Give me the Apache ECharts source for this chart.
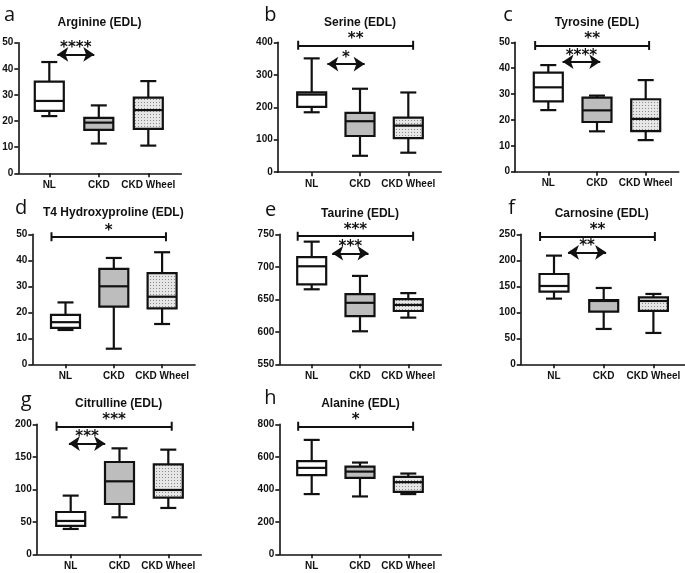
<!DOCTYPE html>
<html><head><meta charset="utf-8">
<script src="https://cdn.jsdelivr.net/npm/echarts@6/dist/echarts.min.js"></script>
<style>html,body{margin:0;padding:0;background:#fff}#c{width:685px;height:573px}</style>
</head><body><div id="c"></div>
<script>
// ---------- data ----------
const categories = ['NL', 'CKD', 'CKD Wheel'];
const panelLetters = ['a', 'b', 'c', 'd', 'e', 'f', 'g', 'h'];
const panelTitles = ['Arginine (EDL)', 'Serine (EDL)', 'Tyrosine (EDL)', 'T4 Hydroxyproline (EDL)',
  'Taurine (EDL)', 'Carnosine (EDL)', 'Citrulline (EDL)', 'Alanine (EDL)'];

// box values per group: [min, Q1, median, Q3, max] for NL, CKD, CKD Wheel
const arginine = [[21.9, 23.9, 27.7, 35.1, 42.6], [11.4, 16.6, 19.4, 21.2, 26.0], [10.6, 17.0, 24.2, 29.0, 35.3]];
const serine = [[184.5, 201, 239, 246, 350.5], [50.5, 111.5, 157, 182.5, 257], [60, 105, 143.5, 168, 245.5]];
const tyrosine = [[23.8, 27.2, 32.6, 38.3, 41.2], [15.6, 19.2, 23.7, 28.6, 29.4], [12.2, 15.7, 20.4, 28.0, 35.4]];
const hydroxyproline = [[13.2, 14.0, 16.2, 19.0, 23.8], [6.0, 22.2, 30.0, 36.7, 40.9], [15.5, 21.5, 26.0, 35.1, 43.1]];
const taurine = [[665.4, 673, 700.8, 715, 738.7], [600.8, 624, 644.6, 658, 686], [621.8, 632, 641.3, 650.3, 659.5]];
const carnosine = [[126.3, 139.7, 150.6, 173.7, 209], [68, 101.3, 121.8, 123.7, 146.8], [60.3, 102.6, 121.8, 128.8, 135.3]];
const citrulline = [[39, 43.6, 51.3, 65.1, 90.3], [56.9, 77.4, 112.3, 142, 163], [71.3, 87.2, 99, 138.5, 161]];
const alanine = [[370.6, 487, 532, 573, 704], [356, 470.6, 509, 540, 564.6], [370.6, 384.5, 444, 476.5, 497]];
const panelData = [arginine, serine, tyrosine, hydroxyproline, taurine, carnosine, citrulline, alanine];

// y axis ticks: [min, max, interval]
const yTicks = [[0, 50, 10], [0, 400, 100], [0, 50, 10], [0, 50, 10], [550, 750, 50], [0, 250, 50], [0, 200, 50], [0, 800, 200]];

// significance brackets: [from (category units), to, y value, label, kind]
const brackets = [
  [[1.05, 2.02, 45.5, '****', 'arrow']],
  [[0.72, 3.10, 390.7, '**', 'bar'], [1.21, 2.21, 333, '*', 'arrow']],
  [[0.73, 3.07, 48.8, '**', 'bar'], [1.18, 2.18, 42.5, '****', 'arrow']],
  [[0.71, 3.08, 49.1, '*', 'bar']],
  [[0.71, 3.10, 747, '***', 'bar'], [1.31, 2.29, 720.8, '***', 'arrow']],
  [[0.72, 3.03, 246, '**', 'bar'], [1.17, 2.16, 215.4, '**', 'arrow']],
  [[0.71, 3.07, 197, '***', 'bar'], [0.85, 1.82, 170.3, '***', 'arrow']],
  [[0.72, 3.10, 787.7, '*', 'bar']]
];

// ---------- layout (pixels) ----------
// [y-axis x, first category x, category spacing, top (max value), bottom (min value)]
const panelLayout = [
  [18.3, 49.3, 49.5, 42.7, 173.3],
  [277.8, 311.7, 48.3, 42.3, 172.2],
  [515, 548.3, 48.7, 42.3, 171.7],
  [32.3, 65.5, 48.3, 234.3, 364.3],
  [279.3, 311.7, 48.3, 234.3, 364.3],
  [520.7, 554, 49.7, 234.3, 364.3],
  [36.7, 70.7, 48.8, 424.3, 554.3],
  [279.3, 311.7, 48.3, 424.3, 554.3]
];
const titlePos = [[99.5, 22.8], [360, 22.8], [597, 22.8], [113.3, 213], [360, 214], [601.7, 214], [118.7, 404], [360.5, 404]];
const letterPos = [[4, 20], [264.3, 20], [503.3, 20.7], [15, 213.3], [265, 215], [508.3, 213.3], [20.7, 405.7], [264.3, 403.3]];

// ---------- styles ----------
const INK = '#111';
function makePattern() {
  const c = document.createElement('canvas');
  c.width = 3; c.height = 3;
  const g = c.getContext('2d');
  g.fillStyle = '#e6e6e6'; g.fillRect(0, 0, 3, 3);
  g.fillStyle = '#8a8a8a'; g.fillRect(0, 0, 1, 1);
  return c;
}
const boxFills = ['#ffffff', '#bdbdbd', { image: makePattern(), repeat: 'repeat' }];
const capPath = 'path://M0,0h0.01v0.01h-0.01Z M0,3.9h10v2.2h-10Z M0,9.99h0.01v0.01h-0.01Z';

function renderBox(params, api) {
  const x = api.value(0);
  const lo = api.coord([x, api.value(1)]);
  const q1 = api.coord([x, api.value(2)]);
  const md = api.coord([x, api.value(3)]);
  const q3 = api.coord([x, api.value(4)]);
  const hi = api.coord([x, api.value(5)]);
  const cx = lo[0];
  const bw = 29, cw = 16;
  const ls = { stroke: INK, lineWidth: 2.2 };
  return {
    type: 'group',
    children: [
      { type: 'line', shape: { x1: cx, y1: hi[1], x2: cx, y2: q3[1] }, style: ls },
      { type: 'line', shape: { x1: cx, y1: q1[1], x2: cx, y2: lo[1] }, style: ls },
      { type: 'line', shape: { x1: cx - cw / 2, y1: hi[1], x2: cx + cw / 2, y2: hi[1] }, style: ls },
      { type: 'line', shape: { x1: cx - cw / 2, y1: lo[1], x2: cx + cw / 2, y2: lo[1] }, style: ls },
      { type: 'rect', shape: { x: cx - bw / 2, y: q3[1], width: bw, height: q1[1] - q3[1] },
        style: { fill: boxFills[params.dataIndex], stroke: INK, lineWidth: 2.2 } },
      { type: 'line', shape: { x1: cx - bw / 2, y1: md[1], x2: cx + bw / 2, y2: md[1] }, style: ls }
    ]
  };
}

const grids = [], xAxes = [], yAxes = [], series = [], graphics = [];
const labelFont = { fontFamily: 'Liberation Sans, Arial', fontWeight: 'bold', fontSize: 10, color: INK };

panelData.forEach((groups, i) => {
  const [L, t1, s, top, bottom] = panelLayout[i];
  const w = (t1 - L) + 2 * s + 33;
  const xmin = 1 - (t1 - L) / s;
  const xmax = xmin + w / s;
  grids.push({ left: L, top: top, width: w, height: bottom - top, outerBoundsMode: 'none' });
  xAxes.push({
    type: 'value', gridIndex: i, min: xmin, max: xmax,
    splitLine: { show: false },
    axisLine: { show: true, onZero: false, lineStyle: { color: INK, width: 1.6 } },
    axisTick: { show: true, customValues: [1, 2, 3], length: 4, lineStyle: { color: INK, width: 1.6 } },
    axisLabel: Object.assign({ customValues: [1, 2, 3], margin: 7,
      formatter: v => categories[Math.round(v) - 1] || '' }, labelFont)
  });
  const [ymin, ymax, yint] = yTicks[i];
  yAxes.push({
    type: 'value', gridIndex: i, min: ymin, max: ymax, interval: yint,
    splitLine: { show: false },
    axisLine: { show: true, onZero: false, lineStyle: { color: INK, width: 1.6 } },
    axisTick: { show: true, length: 4, lineStyle: { color: INK, width: 1.6 } },
    axisLabel: Object.assign({ margin: 5 }, labelFont)
  });
  const data = groups.map((g, k) => [k + 1].concat(g));
  const ml = brackets[i].map(([x1, x2, y, txt, kind]) => {
    if (kind === 'arrow') {
      const inset = 5.5 / s;
      return [{ coord: [x1 + inset, y], symbol: 'arrow', symbolSize: 11, name: txt },
              { coord: [x2 - inset, y], symbol: 'arrow', symbolSize: 11 }];
    }
    return [{ coord: [x1, y], symbol: capPath, symbolSize: 9, name: txt },
            { coord: [x2, y], symbol: capPath, symbolSize: 9 }];
  });
  series.push({
    type: 'custom', xAxisIndex: i, yAxisIndex: i, data: data,
    encode: { x: 0, y: [1, 2, 3, 4, 5] },
    renderItem: renderBox, clip: false, silent: true,
    markLine: {
      silent: true, animation: false, symbol: ['none', 'none'],
      lineStyle: { color: INK, width: 2, type: 'solid' },
      label: { show: true, position: 'middle', formatter: '{b}', distance: -1.5,
        fontFamily: 'DejaVu Sans', fontWeight: 'bold', fontSize: 15, color: INK },
      emphasis: { disabled: true },
      data: ml
    }
  });
  graphics.push({ type: 'text', x: titlePos[i][0], y: titlePos[i][1], silent: true,
    style: { text: panelTitles[i], font: 'bold 12px "Liberation Sans", Arial', fill: INK,
      textAlign: 'center', textVerticalAlign: 'middle' } });
  graphics.push({ type: 'text', x: letterPos[i][0], y: letterPos[i][1] - 5, silent: true,
    style: { text: panelLetters[i], font: '20px "Open Sans"', fill: INK,
      textAlign: 'left', textVerticalAlign: 'middle' } });
});

const chart = echarts.init(document.getElementById('c'), null, { renderer: 'canvas' });
chart.setOption({
  animation: false,
  backgroundColor: '#fff',
  grid: grids, xAxis: xAxes, yAxis: yAxes, series: series,
  graphic: graphics
});
</script></body></html>
